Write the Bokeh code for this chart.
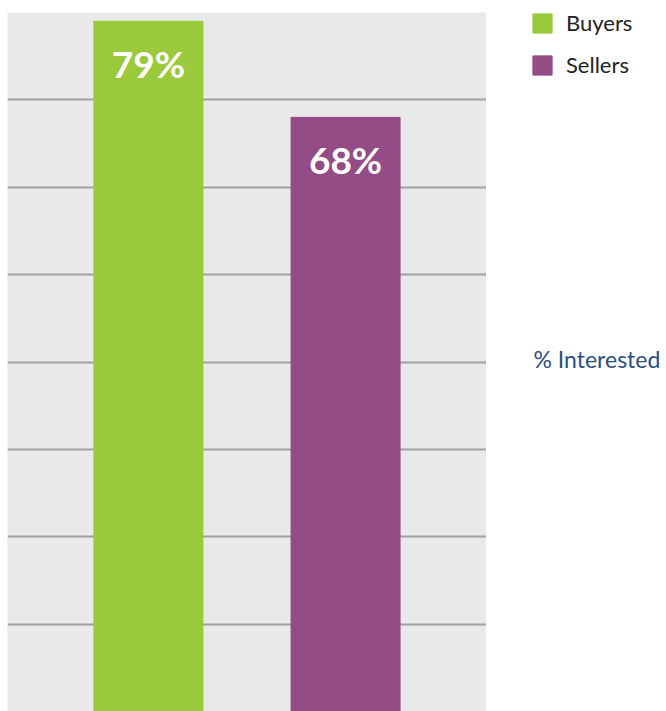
from bokeh.plotting import figure
from bokeh.layouts import row
from bokeh.models import ColumnDataSource, FactorRange, Range1d, FixedTicker, Label
from bokeh.core.properties import value
from bokeh.embed import file_html
from bokeh.resources import INLINE

categories = ["Buyers", "Sellers"]
percent_values = [79, 68]
bar_colors = ["#9bc93c", "#944c87"]
value_labels = ["79%", "68%"]
grid_ticks = [0, 10, 20, 30, 40, 50, 60, 70, 80]
axis_title = "% Interested"

source = ColumnDataSource(dict(cat=categories, val=percent_values, color=bar_colors, label=value_labels))

p = figure(width=486, height=711, output_backend="svg", toolbar_location=None, title=None,
           x_range=FactorRange(*categories, range_padding=0.215, range_padding_units="absolute"),
           y_range=Range1d(0, 80),
           min_border_left=7, min_border_right=0, min_border_top=12, min_border_bottom=0)
p.outline_line_color = None
p.background_fill_color = "#e9e9e9"
p.border_fill_color = "white"
p.xaxis.visible = False
p.yaxis.visible = False
p.xgrid.visible = False
p.ygrid.ticker = FixedTicker(ticks=grid_ticks)
p.ygrid.grid_line_color = "#a0a0a0"
p.ygrid.grid_line_width = 2

p.vbar(x="cat", top="val", width=0.553, color="color", source=source)

p.text(x="cat", y="val", text="label", source=source, text_align="center", text_baseline="middle",
       y_offset=42, text_color="white", text_font=value("Lato"), text_font_style="bold",
       text_font_size="37px")

# side panel holding the legend and the axis title (its own bars lie outside its visible range)
p2 = figure(width=180, height=711, output_backend="svg", toolbar_location=None, title=None,
            x_range=FactorRange(*categories), y_range=Range1d(1000, 2000),
            min_border_left=0, min_border_right=0, min_border_top=0, min_border_bottom=0)
p2.outline_line_color = None
p2.axis.visible = False
p2.grid.visible = False
p2.background_fill_color = "white"
p2.vbar(x="cat", top="val", width=0.5, color="color", source=source, legend_field="cat")

lg = p2.legend[0]
lg.location = (44, 633)
lg.glyph_width = 24
lg.glyph_height = 24
lg.label_height = 26
lg.label_standoff = 12
lg.spacing = 15
lg.padding = 10
lg.margin = 0
lg.border_line_color = None
lg.background_fill_alpha = 0
lg.label_text_font = "Lato"
lg.label_text_font_size = "22px"
lg.label_text_color = "#222222"

p2.add_layout(Label(x=47, y=353, x_units="screen", y_units="screen", text=axis_title,
                    text_baseline="middle", text_font="Lato", text_font_size="23px",
                    text_color="#2a5082"))

layout = row(p, p2, spacing=0)
open("out.html", "w").write(file_html(layout, INLINE))
